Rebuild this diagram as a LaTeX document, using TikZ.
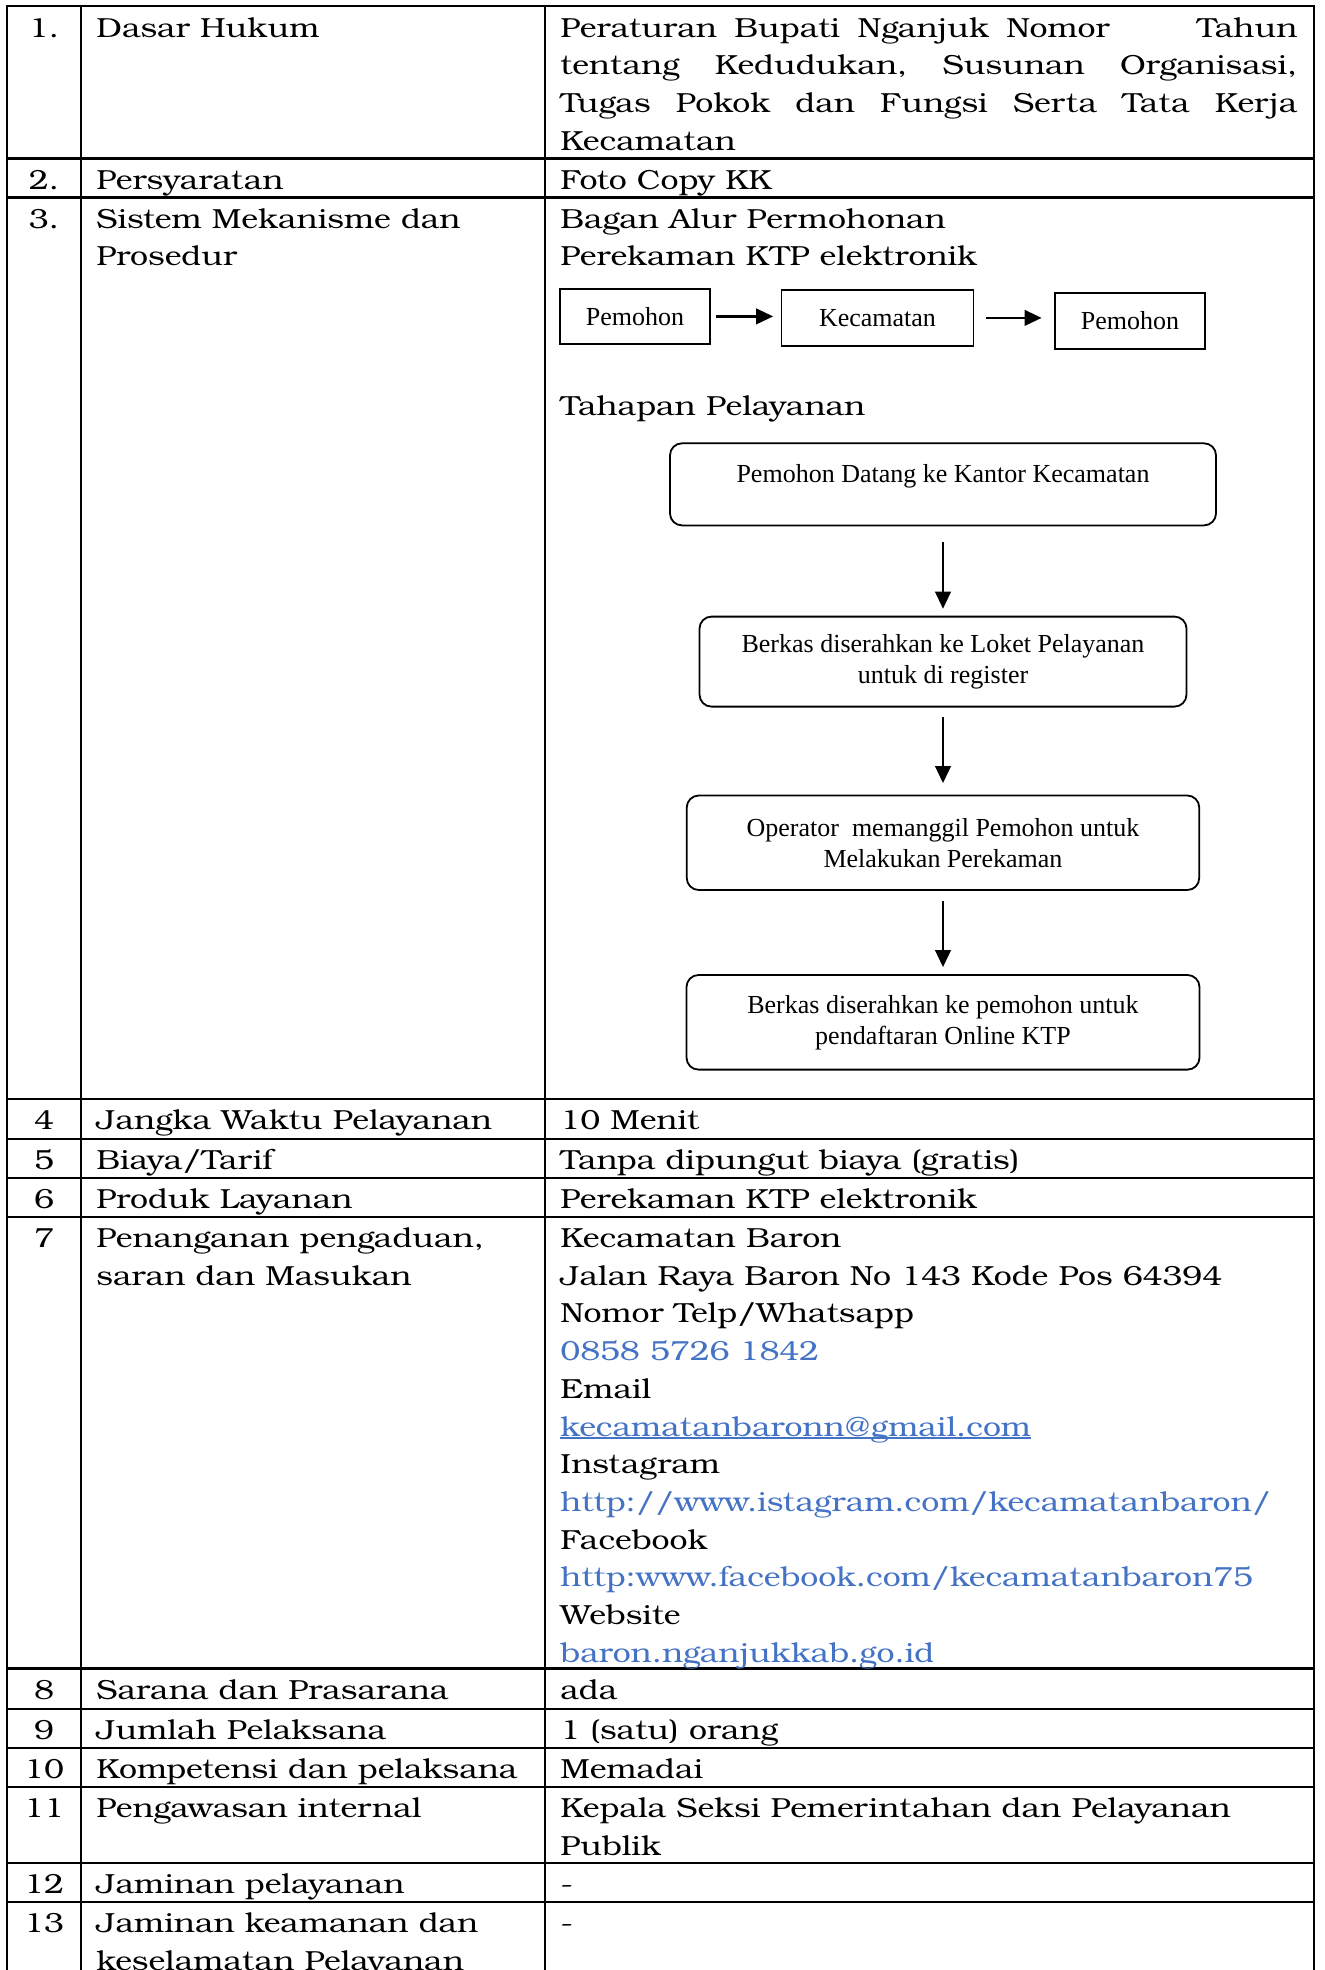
\documentclass[tikz,border=0pt]{standalone}
\usepackage{fontspec}
\setmainfont{texgyrebonum-regular.otf}[FakeStretch=1.16]
\newfontfamily\timesfont{Liberation Serif}
\usepackage{xcolor}
\usetikzlibrary{arrows.meta,positioning}

\definecolor{linkblue}{RGB}{68,114,196}
\newcommand\mainsize{\fontsize{13.8pt}{18.85pt}\selectfont}
\newcommand\jline[1]{\hbox to 368.5pt{#1}}
\newcommand\lines[1]{\begin{tabular}[t]{@{}l@{}}#1\end{tabular}}
\newcommand\mailul[1]{\setbox0\hbox{#1}\rlap{\rule[-1.3pt]{\wd0}{0.6pt}}\box0}

\tikzset{
	tablerule/.style={line width=1.1pt},
	txt/.style={anchor=base west, inner sep=0pt, font=\mainsize},
	num/.style={anchor=base, inner sep=0pt, font=\mainsize},
	flowbox/.style={draw, line width=0.9pt, inner sep=0pt, align=center,
		font=\timesfont\fontsize{13pt}{15.5pt}\selectfont},
	stepbox/.style={flowbox, rounded corners=6pt},
	arr/.style={line width=1.1pt, -{Triangle[length=8.5pt,width=7.8pt]}}
}

\begin{document}
\begin{tikzpicture}[x=0.5pt,y=-0.5pt]
		\useasboundingbox (0,0) rectangle (1324,1970);
		
		% table lines
		\draw[tablerule] (7,1980) -- (7,6) -- (1314,6) -- (1314,1980);
		\draw[tablerule] (81,6) -- (81,1980);
		\draw[tablerule] (545,6) -- (545,1980);
		\foreach \y in {158.5,197.5,1099,1139,1178,1217,1668.5,1709,1748,1787,1863,1902}
		\draw[tablerule] (7,\y) -- (1314,\y);
		
		% 1
		\node[num] (n1) at (44,37) {1.};
		\node[txt] (k1) at (96,37) {Dasar Hukum};
		\node[txt] (v1) at (560,37) {\lines{
			\jline{Peraturan\hfill Bupati\hfill Nganjuk\hfill Nomor\hfill\hfill\hfill\hfill\hfill Tahun}\\
			\jline{tentang\hfill Kedudukan,\hfill Susunan\hfill Organisasi,}\\
			\jline{Tugas\hfill Pokok\hfill dan\hfill Fungsi\hfill Serta\hfill Tata\hfill Kerja}\\
			Kecamatan}};
		
		% 2
		\node[num] (n2) at (44,189) {2.};
		\node[txt] (k2) at (96,189) {Persyaratan};
		\node[txt] (v2) at (560,189) {Foto Copy KK};
		
		% 3
		\node[num] (n3) at (44,228) {3.};
		\node[txt] (k3) at (96,228) {\lines{Sistem Mekanisme dan\\Prosedur}};
		\node[txt] (v3) at (560,228) {\lines{Bagan Alur Permohonan\\Perekaman KTP elektronik}};
		
		\node[flowbox, minimum width=75pt, minimum height=27.7pt] (pem1) at (635,316.4) {Pemohon};
		\node[flowbox, minimum width=96pt, minimum height=27.8pt] (kec) at (877.5,317.9) {Kecamatan};
		\node[flowbox, minimum width=75pt, minimum height=27.7pt] (pem2) at (1130,321) {Pemohon};
		\draw[arr, shorten <=2.5pt, shorten >=3.75pt] (pem1.east) -- (pem1.east -| kec.west);
		\draw[arr, shorten <=5.75pt, shorten >=6.25pt] (kec.east) -- (kec.east -| pem2.west);
		
		\node[txt] (tahapan) at (560,415.4) {Tahapan Pelayanan};
		
		\node[stepbox, minimum width=273pt, inner ysep=0pt, text height=19.65pt, text depth=21.4pt] (tahap1) at (943,484.35)
		{Pemohon Datang ke Kantor Kecamatan};
		\node[stepbox, minimum width=243.5pt, minimum height=45pt] (tahap2) at (943,661.6)
		{Berkas diserahkan ke Loket Pelayanan\\untuk di register};
		\node[stepbox, minimum width=256.25pt, minimum height=47.25pt] (tahap3) at (943,842.75)
		{Operator\ \ memanggil Pemohon untuk\\Melakukan Perekaman};
		\node[stepbox, minimum width=256.5pt, minimum height=47.3pt] (tahap4) at (943,1022.3)
		{Berkas diserahkan ke pemohon untuk\\pendaftaran Online KTP};
		\draw[arr, shorten <=7.8pt, shorten >=3.5pt] (tahap1) -- (tahap2);
		\draw[arr, shorten <=4.65pt, shorten >=5.75pt] (tahap2) -- (tahap3);
		\draw[arr, shorten <=5pt, shorten >=3.5pt] (tahap3) -- (tahap4);
		
		% 4 - 6
		\node[num] (n4) at (44,1129.5) {4};
		\node[txt] (k4) at (96,1129.5) {Jangka Waktu Pelayanan};
		\node[txt] (v4) at (560,1129.5) {10 Menit};
		\node[num] (n5) at (44,1169.5) {5};
		\node[txt] (k5) at (96,1169.5) {Biaya/Tarif};
		\node[txt] (v5) at (560,1169.5) {Tanpa dipungut biaya (gratis)};
		\node[num] (n6) at (44,1208.5) {6};
		\node[txt] (k6) at (96,1208.5) {Produk Layanan};
		\node[txt] (v6) at (560,1208.5) {Perekaman KTP elektronik};
		
		% 7
		\node[num] (n7) at (44,1247.5) {7};
		\node[txt] (k7) at (96,1247.5) {\lines{Penanganan pengaduan,\\saran dan Masukan}};
		\node[txt] (v7) at (560,1247.5) {\lines{Kecamatan Baron\\
			Jalan Raya Baron No 143 Kode Pos 64394\\
			Nomor Telp/Whatsapp\\
			{\color{linkblue}0858 5726 1842}\\
			Email\\
			{\color{linkblue}\mailul{kecamatanbaronn@gmail.com}}\\
			Instagram\\
			{\color{linkblue}http://www.istagram.com/kecamatanbaron/}\\
			Facebook\\
			{\color{linkblue}http:www.facebook.com/kecamatanbaron75}\\
			Website\\
			{\color{linkblue}baron.nganjukkab.go.id}}};
		
		% 8 - 13
		\node[num] (n8) at (44,1699) {8};
		\node[txt] (k8) at (96,1699) {Sarana dan Prasarana};
		\node[txt] (v8) at (560,1699) {ada};
		\node[num] (n9) at (44,1739.5) {9};
		\node[txt] (k9) at (96,1739.5) {Jumlah Pelaksana};
		\node[txt] (v9) at (560,1739.5) {1 (satu) orang};
		\node[num] (n10) at (44,1778.5) {10};
		\node[txt] (k10) at (96,1778.5) {Kompetensi dan pelaksana};
		\node[txt] (v10) at (560,1778.5) {Memadai};
		\node[num] (n11) at (44,1817.5) {11};
		\node[txt] (k11) at (96,1817.5) {Pengawasan internal};
		\node[txt] (v11) at (560,1817.5) {\lines{Kepala Seksi Pemerintahan dan Pelayanan\\Publik}};
		\node[num] (n12) at (44,1893.5) {12};
		\node[txt] (k12) at (96,1893.5) {Jaminan pelayanan};
		\node[txt] (v12) at (560,1893.5) {-};
		\node[num] (n13) at (44,1932.5) {13};
		\node[txt] (k13) at (96,1932.5) {\lines{Jaminan keamanan dan\\keselamatan Pelayanan}};
		\node[txt] (v13) at (560,1932.5) {-};
		
\end{tikzpicture}
\end{document}
